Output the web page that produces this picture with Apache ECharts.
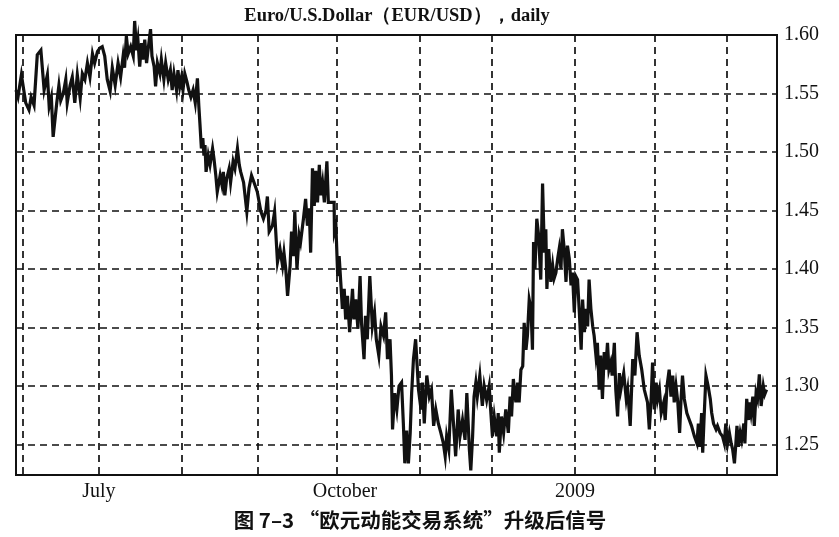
<!DOCTYPE html>
<html><head><meta charset="utf-8">
<script src="https://cdn.jsdelivr.net/npm/echarts@6/dist/echarts.min.js"></script>
<style>html,body{margin:0;padding:0;background:#fff}#c{width:839px;height:537px}</style>
</head><body><div id="c"></div>
<script>
const titleText = 'Euro/U.S.Dollar（EUR/USD），daily';
const captionText = '图 7–3 “欧元动能交易系统”升级后信号';
const firstDay = '2008-05-29';
const lastDay = '2009-03-20';
const monthStarts = ['2008-06-02','2008-07-01','2008-08-01','2008-09-01','2008-10-01','2008-11-03','2008-12-01','2009-01-01','2009-02-02','2009-03-02'];
const labelDates = ['2008-07-01','2008-10-01','2009-01-01'];
const labelTexts = ['July','October','2009'];

// position in trading days from 2008-05-29
const dayPos = [
0,0.55,1.5,2.7,3.6,4.2,5.0,5.9,6.9,7.8,
8.7,9.2,9.8,10.3,11.3,11.9,12.4,13.1,13.8,14.2,
15.0,15.6,16.3,17.0,17.8,18.4,19.1,19.8,20.5,21.2,
21.8,22.6,23.3,23.9,24.6,25.3,26.1,26.7,27.5,28.3,
29.0,29.7,30.1,30.6,31.1,31.8,32.5,32.9,33.4,33.8,
34.3,34.8,35.2,35.7,36.2,36.8,37.3,37.7,38.3,38.7,
39.2,39.9,40.3,41.0,41.5,42.2,42.8,43.3,43.8,44.5,
44.9,45.4,45.9,46.3,46.8,47.4,47.9,48.5,49.1,49.7,
50.3,50.7,51.0,51.4,51.8,52.1,52.4,52.7,53.3,53.8,
54.5,54.9,55.4,55.8,56.6,57.1,57.5,57.9,58.4,59.1,
59.5,60.2,60.7,61.4,61.9,62.3,63.1,64.0,64.6,65.3,
66.0,66.9,67.9,68.6,69.3,69.7,70.2,71.1,71.7,72.5,
73.2,73.9,74.3,74.8,75.3,76.0,76.4,76.9,77.3,77.9,
78.5,78.9,79.7,80.3,80.8,81.3,81.7,82.2,82.7,83.1,
83.6,84.1,84.5,85.0,85.5,86.2,86.6,88.2,88.3,88.7,
89.2,89.6,90.1,90.5,91.0,91.4,91.9,92.5,93.3,93.7,
94.2,94.8,95.4,95.8,96.5,96.9,97.4,98.1,98.8,99.4,
99.9,100.6,101.2,101.9,102.5,103.0,103.7,104.1,104.4,105.0,
105.6,106.2,106.9,107.4,107.8,108.3,108.8,109.3,109.7,110.2,
110.8,111.6,112.3,112.7,113.2,113.9,114.6,115.2,115.8,116.4,
117.1,117.8,118.5,119.0,119.4,120.0,120.7,121.3,121.9,122.6,
123.1,123.8,124.5,125.0,125.7,126.1,126.6,127.0,127.5,127.9,
128.6,129.3,129.8,130.5,131.2,131.6,132.1,132.6,133.3,133.7,
134.0,134.6,135.2,135.8,136.5,137.0,137.4,137.9,138.6,139.1,
139.5,140.0,140.5,140.9,141.4,141.8,142.3,142.8,143.2,143.5,
143.9,144.4,144.9,145.5,146.0,146.5,146.9,147.2,147.7,148.3,
148.8,149.2,149.7,150.2,150.6,151.1,151.5,152.0,152.5,152.9,
153.4,153.9,154.3,154.8,155.2,155.7,156.2,156.7,157.1,157.6,
158.0,158.5,158.9,159.4,159.9,160.3,160.8,161.2,161.7,162.1,
162.6,163.1,163.5,164.0,164.4,164.9,165.3,165.9,166.3,166.8,
167.3,167.7,168.5,169.2,169.6,170.3,171.0,171.6,172.2,172.8,
173.5,174.2,175.1,175.6,176.1,176.5,177.0,177.5,177.9,178.4,
178.9,179.6,180.0,180.5,181.1,181.6,182.1,182.5,183.0,183.5,
184.0,184.4,184.8,185.3,186.0,186.7,187.3,188.1,188.8,189.2,
189.6,190.1,190.4,190.8,191.3,191.9,192.5,192.9,193.4,194.1,
194.5,195.2,195.9,196.4,196.8,197.3,197.8,198.3,198.7,199.2,
199.6,199.9,200.3,200.8,201.2,201.8,202.1,202.6,203.1,203.4,
203.8,204.3,204.7,205.2,205.6,206.1,206.6,207.2,207.6,208.1
];
const rate = [
1.553,1.547,1.566,1.542,1.536,1.547,1.540,1.583,1.587,1.553,
1.566,1.539,1.547,1.513,1.542,1.557,1.544,1.550,1.562,1.542,
1.557,1.564,1.542,1.566,1.546,1.567,1.562,1.576,1.564,1.584,
1.576,1.586,1.589,1.590,1.582,1.562,1.552,1.572,1.557,1.576,
1.564,1.582,1.572,1.599,1.584,1.590,1.582,1.612,1.587,1.596,
1.573,1.593,1.579,1.596,1.576,1.592,1.605,1.582,1.573,1.556,
1.576,1.567,1.579,1.562,1.576,1.562,1.570,1.553,1.567,1.553,
1.570,1.556,1.564,1.553,1.567,1.560,1.553,1.547,1.553,1.542,
1.563,1.539,1.524,1.503,1.512,1.497,1.506,1.483,1.497,1.489,
1.503,1.494,1.480,1.466,1.480,1.472,1.483,1.463,1.477,1.486,
1.474,1.492,1.486,1.503,1.489,1.483,1.474,1.449,1.469,1.480,
1.474,1.466,1.449,1.443,1.450,1.462,1.432,1.437,1.449,1.406,
1.417,1.403,1.414,1.400,1.377,1.403,1.432,1.411,1.449,1.400,
1.429,1.423,1.443,1.460,1.437,1.452,1.414,1.486,1.454,1.484,
1.457,1.489,1.463,1.474,1.457,1.492,1.457,1.457,1.432,1.437,
1.394,1.411,1.386,1.366,1.383,1.357,1.377,1.346,1.383,1.357,
1.374,1.349,1.394,1.354,1.323,1.360,1.340,1.394,1.351,1.363,
1.340,1.326,1.351,1.343,1.363,1.323,1.340,1.309,1.263,1.294,
1.280,1.300,1.303,1.268,1.234,1.262,1.234,1.260,1.294,1.323,
1.340,1.297,1.280,1.303,1.268,1.309,1.291,1.297,1.266,1.280,
1.268,1.260,1.251,1.240,1.257,1.246,1.297,1.268,1.240,1.280,
1.257,1.271,1.254,1.294,1.246,1.228,1.257,1.291,1.303,1.291,
1.309,1.283,1.300,1.288,1.300,1.280,1.257,1.274,1.257,1.277,
1.243,1.274,1.260,1.280,1.260,1.291,1.274,1.306,1.286,1.303,
1.286,1.314,1.317,1.354,1.331,1.343,1.374,1.366,1.331,1.423,
1.400,1.443,1.429,1.391,1.473,1.414,1.434,1.383,1.417,1.389,
1.403,1.392,1.397,1.409,1.417,1.400,1.434,1.417,1.389,1.420,
1.409,1.386,1.397,1.363,1.394,1.391,1.363,1.331,1.374,1.346,
1.366,1.351,1.391,1.366,1.351,1.343,1.326,1.337,1.297,1.326,
1.289,1.329,1.314,1.337,1.314,1.320,1.309,1.337,1.297,1.274,
1.311,1.297,1.311,1.289,1.297,1.266,1.323,1.309,1.346,1.326,
1.314,1.297,1.286,1.263,1.289,1.320,1.280,1.303,1.289,1.297,
1.277,1.286,1.271,1.300,1.314,1.291,1.309,1.286,1.300,1.286,
1.260,1.289,1.309,1.289,1.277,1.271,1.266,1.257,1.251,1.268,
1.248,1.277,1.243,1.274,1.309,1.300,1.289,1.277,1.268,1.263,
1.266,1.260,1.257,1.251,1.268,1.251,1.260,1.251,1.246,1.234,
1.251,1.266,1.248,1.260,1.254,1.268,1.251,1.289,1.271,1.286,
1.277,1.291,1.266,1.294,1.289,1.310,1.283,1.300,1.293,1.297
];

function weekdays(a, b) {
  const out = [];
  let d = new Date(a + 'T00:00:00Z');
  const end = new Date(b + 'T00:00:00Z');
  while (d <= end) {
    const w = d.getUTCDay();
    if (w !== 0 && w !== 6) out.push(d.toISOString().slice(0, 10));
    d = new Date(d.getTime() + 86400000);
  }
  return out;
}
const categories = weekdays(firstDay, lastDay);
const gridDash = { type: [7, 5], color: '#111', width: 1.7 };

const chart = echarts.init(document.getElementById('c'), null, { renderer: 'canvas' });
chart.setOption({
  animation: false,
  backgroundColor: '#fff',
  grid: { left: 16, top: 35, right: 62, bottom: 62, show: true, borderColor: '#111', borderWidth: 2, backgroundColor: 'transparent' },
  xAxis: [
    { type: 'value', min: 0, max: categories.length - 1, show: false },
    {
      type: 'category', data: categories, boundaryGap: false, position: 'bottom',
      axisLine: { show: false }, axisTick: { show: false },
      axisLabel: {
        interval: (i, v) => labelDates.includes(v),
        formatter: (v) => {
          const k = labelDates.indexOf(v);
          if (k < 0) return '';
          return k === 1 ? '{o|' + labelTexts[k] + '}' : labelTexts[k];
        },
        rich: { o: { fontFamily: 'Liberation Serif', fontSize: 20, color: '#111', padding: [0, 0, 0, 16] } },
        fontFamily: 'Liberation Serif', fontSize: 20, color: '#111', margin: 7
      },
      splitLine: { show: true, interval: (i, v) => monthStarts.includes(v), lineStyle: gridDash }
    }
  ],
  yAxis: {
    type: 'value', position: 'right', min: 1.224, max: 1.60, splitNumber: 7,
    axisLine: { show: false }, axisTick: { show: false },
    axisLabel: { showMinLabel: false, showMaxLabel: true, formatter: (v) => v.toFixed(2), fontFamily: 'Liberation Serif', fontSize: 20, color: '#111', margin: 7 },
    splitLine: { show: true, lineStyle: gridDash }
  },
  graphic: [
    { type: 'text', x: 397, y: 16, style: { text: titleText, font: 'bold 18.5px "Liberation Serif"', fill: '#111', textAlign: 'center', textVerticalAlign: 'middle', align: 'center', verticalAlign: 'middle' } },
    { type: 'text', x: 420, y: 520, style: { text: captionText, font: 'bold 20.5px "Noto Sans CJK SC"', fill: '#111', textAlign: 'center', textVerticalAlign: 'middle', align: 'center', verticalAlign: 'middle' } }
  ],
  series: [{
    type: 'line', xAxisIndex: 0, yAxisIndex: 0, clip: false,
    data: dayPos.map((t, i) => [t, rate[i]]),
    showSymbol: false, symbol: 'none',
    lineStyle: { color: '#111', width: 3.2, join: 'miter' }
  }]
});
</script>
</body></html>
